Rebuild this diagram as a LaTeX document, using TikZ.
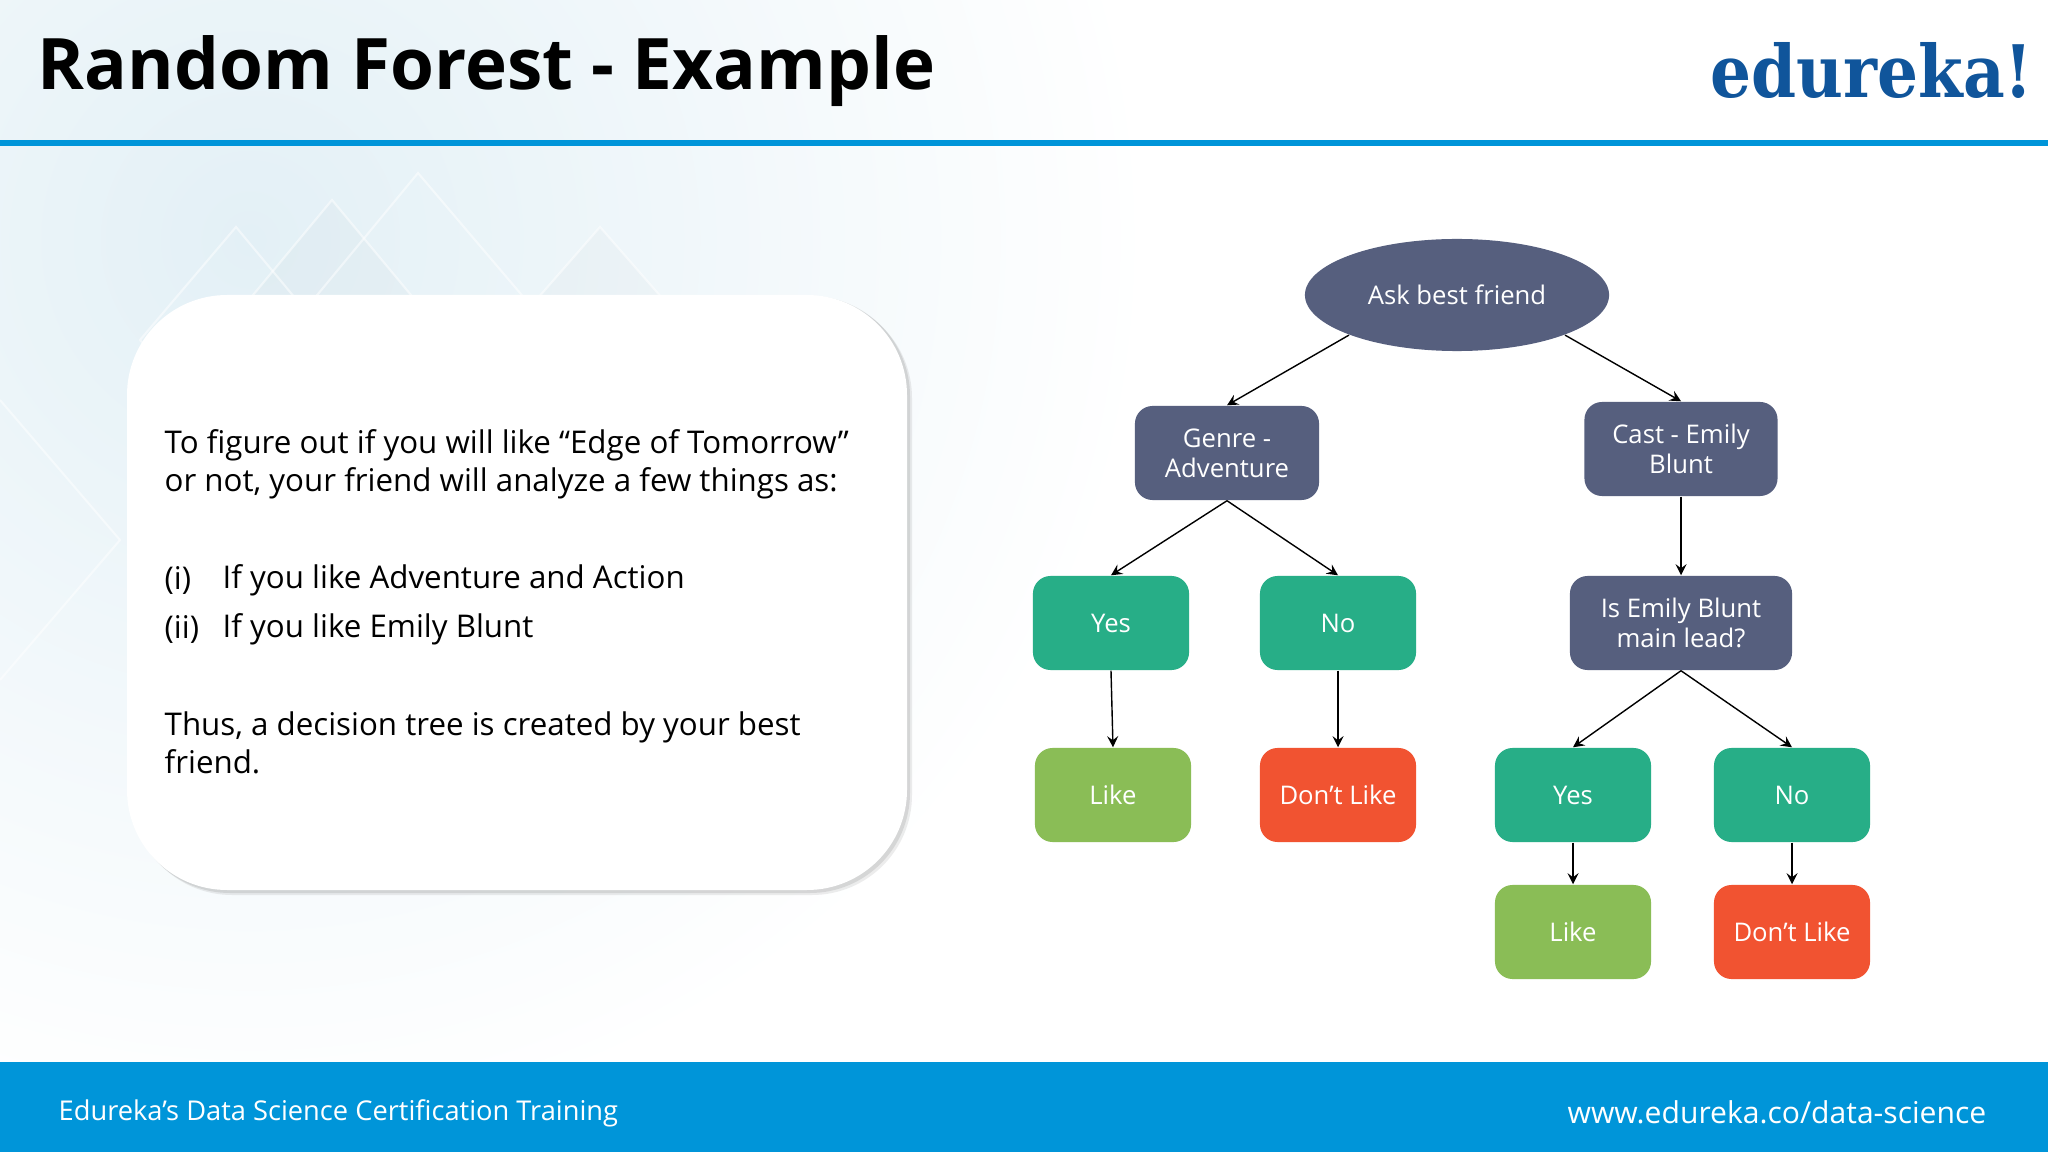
\documentclass[tikz,border=0pt]{standalone}
\usepackage{fontspec}
\usetikzlibrary{shapes.geometric}
\setmainfont{Open Sans}
\newfontfamily\logofont{DejaVu Serif}
\definecolor{slatebox}{HTML}{565F7E}
\definecolor{greenbox}{HTML}{27AE87}
\definecolor{likebox}{HTML}{8ABD56}
\definecolor{dontbox}{HTML}{F15331}
\definecolor{barblue}{HTML}{0095D9}
\definecolor{logoblue}{HTML}{10559B}
\definecolor{paleblue}{HTML}{E3F0F6}
\tikzset{
	decision/.style={rectangle, rounded corners=5pt, fill=slatebox, text=white, font=\fontsize{7.3}{8.6}\selectfont, align=center, inner sep=0pt, minimum height=0.94cm},
	outcome/.style={rectangle, rounded corners=5pt, text=white, font=\fontsize{7.3}{8.6}\selectfont, inner sep=0pt, minimum width=1.56cm, minimum height=0.94cm},
	para/.style={anchor=west, align=left, inner sep=0pt, font=\fontsize{8.9}{10.7}\selectfont},
	barfont/.style={text=white, inner sep=0pt, font=\fontsize{7.75}{10}\selectfont},
	diamondline/.style={white, line width=0.6pt, opacity=0.5}
}
\begin{document}
\begin{tikzpicture}[x=0.01cm, y=-0.01cm]
	\useasboundingbox (0, 0) rectangle (2048, 1152);
	% background
	\fill[white] (0, 0) rectangle (2048, 1152);
	\begin{scope}
		\clip (0, 0) rectangle (2048, 1062);
		\shade[inner color=paleblue, outer color=white] (250, 240) circle (900);
		\fill[gray, opacity=0.03] (332, 200) -- (440, 330) -- (332, 460) -- (224, 330) -- cycle;
		\fill[gray, opacity=0.03] (600, 227) -- (690, 330) -- (600, 430) -- (510, 330) -- cycle;
		\draw[diamondline] (332, 200) -- (440, 330) -- (332, 460) -- (224, 330) -- cycle;
		\draw[diamondline] (236, 227) -- (330, 340) -- (236, 450) -- (140, 340) -- cycle;
		\draw[diamondline] (418, 173) -- (560, 340) -- (418, 500) -- (280, 340) -- cycle;
		\draw[diamondline] (600, 227) -- (690, 330) -- (600, 430) -- (510, 330) -- cycle;
		\draw[diamondline] (0, 400) -- (120, 540) -- (0, 680);
	\end{scope}

	% header and footer
	\fill[barblue] (0, 140) rectangle (2048, 146);
	\fill[barblue] (0, 1062) rectangle (2048, 1152);
	\node[anchor=west, inner sep=0pt, font=\fontsize{20.2}{24}\selectfont\bfseries] (Title)at(37, 71) {Random Forest - Example};
	\node[anchor=base east, inner sep=0pt, text=logoblue, font=\fontsize{20.6}{24}\logofont\bfseries] (Logo)at(2034, 98) {\scalebox{0.89}[1]{edureka!}};
	\node[barfont, anchor=west] (FootLeft)at(58, 1113) {Edureka’s Data Science Certification Training};
	\node[barfont, anchor=east, font=\fontsize{8.56}{10}\selectfont] (FootRight)at(1987, 1112) {www.edureka.co/data-science};

	% text panel
	\fill[gray, opacity=0.15, rounded corners=1cm] (132, 298) rectangle (912, 895);
	\fill[gray, opacity=0.2, rounded corners=1cm] (130, 296) rectangle (910, 893);
	\fill[white, rounded corners=1cm] (127, 295) rectangle (907, 890);
	\node[para] (Intro)at(164, 464) {To figure out if you will like “Edge of Tomorrow”\\or not, your friend will analyze a few things as:};
	\node[para] (ItemA)at(164, 580) {(i)};
	\node[para] (ItemAText)at(222, 580) {If you like Adventure and Action};
	\node[para] (ItemB)at(164, 629) {(ii)};
	\node[para] (ItemBText)at(222, 629) {If you like Emily Blunt};
	\node[para] (Closing)at(164, 743) {Thus, a decision tree is created by your best\\friend.};

	% tree
	\node[ellipse, fill=slatebox, text=white, inner sep=0pt, minimum width=3.04cm, minimum height=1.12cm, font=\fontsize{7.3}{8.6}\selectfont] (Ask)at(1457, 295) {Ask best friend};
	\node[decision, minimum width=1.84cm] (Genre)at(1227, 453) {Genre -\\Adventure};
	\node[decision, minimum width=1.93cm] (Cast)at(1681, 449) {Cast - Emily\\Blunt};
	\node[decision, minimum width=2.22cm] (Lead)at(1681, 623) {Is Emily Blunt\\main lead?};
	\node[outcome, fill=greenbox] (YesA)at(1111, 623) {Yes};
	\node[outcome, fill=greenbox] (NoA)at(1338, 623) {No};
	\node[outcome, fill=likebox] (LikeA)at(1113, 795) {Like};
	\node[outcome, fill=dontbox] (DontA)at(1338, 795) {Don’t Like};
	\node[outcome, fill=greenbox] (YesB)at(1573, 795) {Yes};
	\node[outcome, fill=greenbox] (NoB)at(1792, 795) {No};
	\node[outcome, fill=likebox] (LikeB)at(1573, 932) {Like};
	\node[outcome, fill=dontbox] (DontB)at(1792, 932) {Don’t Like};
	\draw[->, >=stealth] (Ask.south west) -- (Genre.north);
	\draw[->, >=stealth] (Ask.south east) -- (Cast.north);
	\draw[->, >=stealth] (Genre.south) -- (YesA.north);
	\draw[->, >=stealth] (Genre.south) -- (NoA.north);
	\draw[->, >=stealth] (Cast) -- (Lead);
	\draw[->, >=stealth] (YesA.south) -- (LikeA.north);
	\draw[->, >=stealth] (NoA) -- (DontA);
	\draw[->, >=stealth] (Lead.south) -- (YesB.north);
	\draw[->, >=stealth] (Lead.south) -- (NoB.north);
	\draw[->, >=stealth] (YesB) -- (LikeB);
	\draw[->, >=stealth] (NoB) -- (DontB);
\end{tikzpicture}
\end{document}
